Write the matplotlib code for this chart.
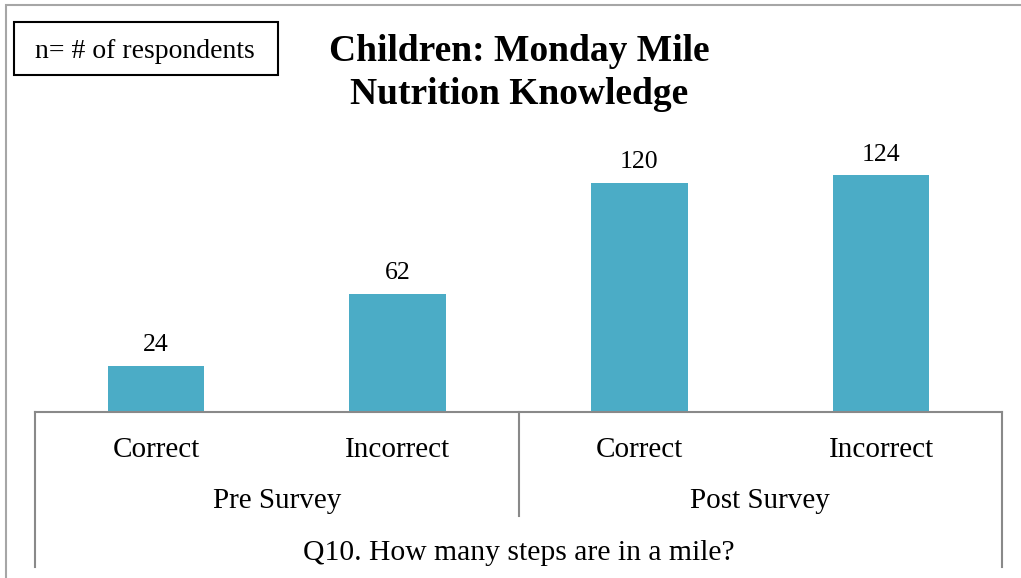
import matplotlib.pyplot as plt
from matplotlib.patches import Rectangle
from matplotlib.transforms import blended_transform_factory

# Datos
categories = ['Correct', 'Incorrect', 'Correct', 'Incorrect']
groups = ['Pre Survey', 'Post Survey']
values = [24, 62, 120, 124]
question = 'Q10. How many steps are in a mile?'
title = 'Children: Monday Mile\nNutrition Knowledge'
note = 'n= # of respondents'

W, H = 1021, 578
plt.rcParams['font.family'] = ['Liberation Serif', 'DejaVu Serif']

fig = plt.figure(figsize=(W / 100, H / 100), dpi=100)

def fx(px):
    return px / W

def fy(py):
    return 1 - py / H

# borde del area del grafico (recortado a la derecha y abajo)
fig.add_artist(Rectangle((fx(6), fy(H + 10)), 2, fy(5) - fy(H + 10),
                         transform=fig.transFigure, fill=False,
                         edgecolor='#a6a6a6', linewidth=1.5))

base = 411.7
ax = fig.add_axes([fx(35), fy(base), fx(1002) - fx(35), fy(145) - fy(base)])
x = list(range(len(values)))
ax.bar(x, values, width=0.4, color='#4bacc6')
ax.set_xlim(-0.5, 3.5)
ax.set_ylim(0, 140)
ax.set_xticks([])
ax.set_yticks([])
for s in ['top', 'right', 'left']:
    ax.spines[s].set_visible(False)
ax.spines['bottom'].set_color('#898989')
ax.spines['bottom'].set_linewidth(1.5)

for xi, v in zip(x, values):
    ax.annotate(str(v), (xi, v), xytext=(0, 15), textcoords='offset points',
                ha='center', va='center', fontsize=18.5)

tr = blended_transform_factory(ax.transData, fig.transFigure)
# separadores del eje de categorias
for xd, bottom in [(-0.5, 567), (1.5, 516), (3.5, 567)]:
    ax.plot([xd, xd], [fy(base), fy(bottom)], transform=tr, color='#898989',
            linewidth=1.5, clip_on=False)

for xi, c in zip(x, categories):
    fig.text(xi, fy(450), c, transform=tr, ha='center', va='center', fontsize=21)
for i, g in enumerate(groups):
    fig.text(2 * i + 0.5, fy(501), g, transform=tr, ha='center', va='center', fontsize=21)
fig.text(1.5, fy(553), question, transform=tr, ha='center', va='center', fontsize=21.3)

fig.text(fx(519), fy(73), title, ha='center', va='center', fontsize=27,
         fontweight='bold', linespacing=1.3)

# recuadro de nota
fig.add_artist(Rectangle((fx(14), fy(75)), fx(278) - fx(14), fy(22) - fy(75),
                         transform=fig.transFigure, facecolor='white',
                         edgecolor='black', linewidth=1.5))
fig.text(fx(145), fy(51), note, ha='center', va='center', fontsize=20)

fig.savefig('out.png', dpi=100)
